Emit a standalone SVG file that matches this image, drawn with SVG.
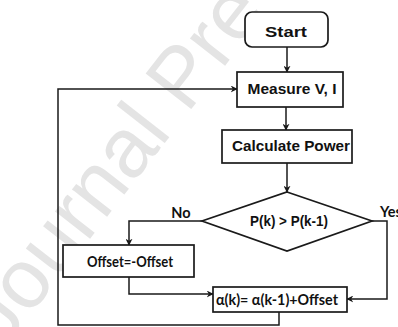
<svg xmlns="http://www.w3.org/2000/svg" width="398" height="327" viewBox="0 0 398 327">
  <style>
    .box { fill: #ffffff; stroke: #1a1a1a; stroke-width: 1.7; }
    .wire { fill: none; stroke: #1a1a1a; stroke-width: 1.5; }
    .geo { font-family: "Liberation Sans", Arial, sans-serif; font-weight: bold; font-size: 15.5px; fill: #111111; text-anchor: middle; }
    .hum { font-family: Lato, "Liberation Sans", sans-serif; font-weight: bold; font-size: 14.5px; fill: #111111; text-anchor: middle; }
    .mark { font-family: "Liberation Sans", Arial, sans-serif; font-size: 84px; fill: #e4e4e4; }
  </style>
  <defs>
    <marker id="arrow" viewBox="0 0 10 10" refX="9" refY="5" markerWidth="7" markerHeight="7" markerUnits="userSpaceOnUse" orient="auto">
      <path d="M0,0 L10,5 L0,10 L3,5 Z" fill="#1a1a1a"/>
    </marker>
  </defs>

  <rect width="398" height="327" fill="#ffffff"/>

  <!-- diagonal watermark -->
  <g id="watermark">
    <text class="mark" x="3" y="350" transform="rotate(-52 3 350)">Journal Pre-proof</text>
  </g>

  <!-- connectors -->
  <g id="connectors">
    <path class="wire" d="M287,47 L287,72" marker-end="url(#arrow)"/>
    <path class="wire" d="M286,107 L286,130" marker-end="url(#arrow)"/>
    <path class="wire" d="M287,163 L287,192" marker-end="url(#arrow)"/>
    <path class="wire" d="M202,221 L129,221 L129,245" marker-end="url(#arrow)"/>
    <path class="wire" d="M372,221 L387,221 L387,299 L347,299" marker-end="url(#arrow)"/>
    <path class="wire" d="M129,277 L129,294 L213,294" marker-end="url(#arrow)"/>
    <path class="wire" d="M279,312 L279,325 L58,325 L58,89 L237,89" marker-end="url(#arrow)"/>
    <text class="hum" x="181" y="218">No</text>
    <text class="hum" x="380" y="217" style="text-anchor:start">Yes</text>
  </g>

  <g id="start">
    <rect class="box" x="245" y="12" width="83" height="35" rx="7"/>
    <text class="geo" x="286" y="37" textLength="42" lengthAdjust="spacingAndGlyphs">Start</text>
  </g>

  <g id="measure">
    <rect class="box" x="237" y="72" width="106" height="35"/>
    <text class="geo" x="292" y="94" textLength="89" lengthAdjust="spacingAndGlyphs">Measure V, I</text>
  </g>

  <g id="calculate">
    <rect class="box" x="222" y="130" width="130" height="33"/>
    <text class="geo" x="291" y="151" textLength="118" lengthAdjust="spacingAndGlyphs">Calculate Power</text>
  </g>

  <g id="decision">
    <polygon class="box" points="287,192 372,221 287,251 202,221"/>
    <text class="geo" x="289" y="226" textLength="78" lengthAdjust="spacingAndGlyphs">P(k) &gt; P(k-1)</text>
  </g>

  <g id="negate">
    <rect class="box" x="63" y="245" width="131" height="32"/>
    <text class="hum" x="130" y="267" textLength="86" lengthAdjust="spacingAndGlyphs">Offset=-Offset</text>
  </g>

  <g id="update">
    <rect class="box" x="213" y="287" width="134" height="25"/>
    <text class="hum" x="277" y="305" textLength="122" lengthAdjust="spacingAndGlyphs">α(k)= α(k-1)+Offset</text>
  </g>
</svg>
